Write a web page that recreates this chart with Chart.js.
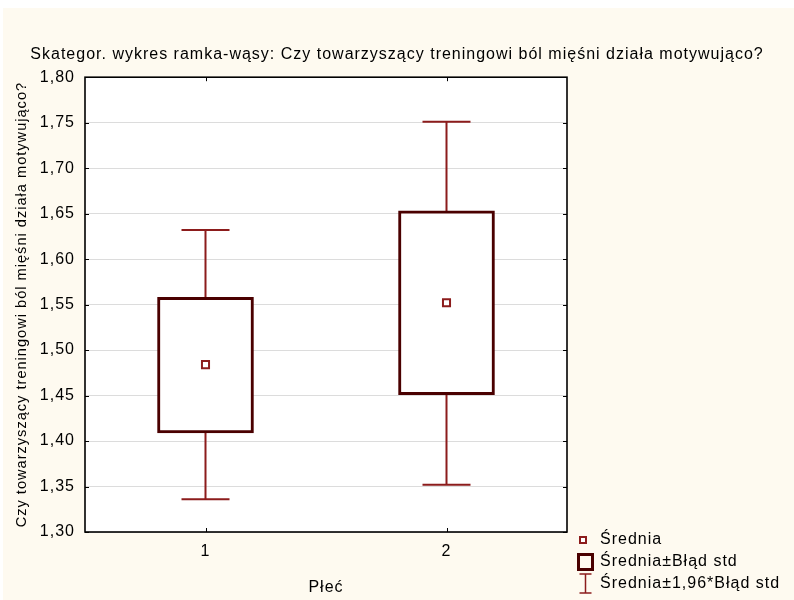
<!DOCTYPE html>
<html>
<head>
<meta charset="utf-8">
<script src="https://cdn.jsdelivr.net/npm/chart.js@4.4.1/dist/chart.umd.min.js"></script>
<style>
  html, body { margin: 0; padding: 0; background: #ffffff; }
  #wrap { width: 794px; height: 600px; position: relative; }
</style>
</head>
<body>
<div id="wrap"><canvas id="c" width="794" height="600"></canvas></div>
<script>
// ---- data ----
const categories = ['1', '2'];
const means      = [1.484, 1.552];
const seLow      = [1.409, 1.451];
const seHigh     = [1.558, 1.653];
const ciLow      = [1.336, 1.352];
const ciHigh     = [1.632, 1.751];
const yTickValues = [1.30, 1.35, 1.40, 1.45, 1.50, 1.55, 1.60, 1.65, 1.70, 1.75, 1.80];
const legendLabels = ['Średnia', 'Średnia±Błąd std', 'Średnia±1,96*Błąd std'];
const chartTitle = 'Skategor. wykres ramka-wąsy: Czy towarzyszący treningowi ból mięśni działa motywująco?';
const yTitle = 'Czy towarzyszący treningowi ból mięśni działa motywująco?';
const xTitle = 'Płeć';

const FONT = "'Liberation Sans', Arial, sans-serif";
const BOX_COLOR = '#4a0000';
const WHISKER_COLOR = '#8c1c1c';
const BG = '#fefaf0';

const spacingPlugin = {
  id: 'spacing',
  beforeUpdate(chart) { chart.ctx.letterSpacing = '1px'; },
  beforeLayout(chart) { chart.ctx.letterSpacing = '1px'; },
  beforeDraw(chart) {
    const ctx = chart.ctx;
    const a = chart.chartArea;
    ctx.save();
    ctx.fillStyle = '#ffffff';
    ctx.fillRect(0, 0, chart.width, chart.height);
    ctx.fillStyle = BG;
    ctx.fillRect(3, 8, chart.width - 3, chart.height - 8);
    ctx.fillStyle = '#ffffff';
    ctx.fillRect(a.left, a.top, a.right - a.left, a.bottom - a.top);
    ctx.restore();
    ctx.letterSpacing = '1px';
  }
};

const whiskerPlugin = {
  id: 'whiskers',
  beforeDatasetsDraw(chart) {
    const ctx = chart.ctx;
    const xs = chart.scales.x, ys = chart.scales.y;
    ctx.save();
    ctx.strokeStyle = WHISKER_COLOR;
    ctx.lineWidth = 2;
    categories.forEach((c, i) => {
      const x = xs.getPixelForValue(i);
      const yTop = ys.getPixelForValue(ciHigh[i]);
      const yBot = ys.getPixelForValue(ciLow[i]);
      const yBoxT = ys.getPixelForValue(seHigh[i]);
      const yBoxB = ys.getPixelForValue(seLow[i]);
      ctx.beginPath();
      ctx.moveTo(x, yBoxT); ctx.lineTo(x, yTop);
      ctx.moveTo(x, yBoxB); ctx.lineTo(x, yBot);
      ctx.moveTo(x - 24, yTop); ctx.lineTo(x + 24, yTop);
      ctx.moveTo(x - 24, yBot); ctx.lineTo(x + 24, yBot);
      ctx.stroke();
    });
    ctx.restore();
  },
  afterDraw(chart) {
    const ctx = chart.ctx;
    const a = chart.chartArea;
    const xs = chart.scales.x, ys = chart.scales.y;
    ctx.save();
    // frame
    ctx.strokeStyle = '#000000';
    ctx.lineWidth = 1.6;
    ctx.strokeRect(a.left, a.top, a.right - a.left, a.bottom - a.top);
    // inside ticks
    ctx.lineWidth = 1;
    ctx.beginPath();
    yTickValues.forEach(v => {
      const y = Math.round(ys.getPixelForValue(v)) + 0.5;
      ctx.moveTo(a.left, y); ctx.lineTo(a.left + 4, y);
      ctx.moveTo(a.right, y); ctx.lineTo(a.right - 4, y);
    });
    categories.forEach((c, i) => {
      const x = Math.round(xs.getPixelForValue(i)) + 0.5;
      ctx.moveTo(x, a.top); ctx.lineTo(x, a.top + 4);
      ctx.moveTo(x, a.bottom); ctx.lineTo(x, a.bottom - 4);
    });
    ctx.stroke();

    // legend
    ctx.font = '16px ' + FONT;
    ctx.letterSpacing = '1px';
    ctx.fillStyle = '#000000';
    ctx.textBaseline = 'middle';
    ctx.textAlign = 'left';
    const lx = 600;
    const rows = [540, 562, 584];
    // mean marker
    ctx.strokeStyle = WHISKER_COLOR;
    ctx.lineWidth = 2;
    ctx.fillStyle = '#ffffff';
    ctx.fillRect(580, rows[0] - 3, 6, 6);
    ctx.strokeRect(580, rows[0] - 3, 6, 6);
    // box marker
    ctx.strokeStyle = BOX_COLOR;
    ctx.lineWidth = 3;
    ctx.strokeRect(578.5, rows[1] - 7.5, 14, 15);
    // whisker marker
    ctx.strokeStyle = WHISKER_COLOR;
    ctx.lineWidth = 1.5;
    ctx.beginPath();
    ctx.moveTo(585.5, rows[2] - 10); ctx.lineTo(585.5, rows[2] + 9);
    ctx.moveTo(579.5, rows[2] - 10); ctx.lineTo(591.5, rows[2] - 10);
    ctx.moveTo(579.5, rows[2] + 9); ctx.lineTo(591.5, rows[2] + 9);
    ctx.stroke();
    ctx.fillStyle = '#000000';
    legendLabels.forEach((t, i) => ctx.fillText(t, lx, rows[i]));
    ctx.restore();
    ctx.letterSpacing = '1px';
  }
};

new Chart(document.getElementById('c'), {
  data: {
    labels: categories,
    datasets: [
      {
        type: 'bar',
        label: legendLabels[1],
        data: categories.map((c, i) => [seLow[i], seHigh[i]]),
        backgroundColor: '#ffffff',
        borderColor: BOX_COLOR,
        borderWidth: 3,
        borderSkipped: false,
        barThickness: 96,
        order: 2
      },
      {
        type: 'line',
        label: legendLabels[0],
        data: means,
        showLine: false,
        pointStyle: 'rect',
        pointRadius: 5,
        pointBorderWidth: 2,
        pointBorderColor: WHISKER_COLOR,
        pointBackgroundColor: '#ffffff',
        order: 1
      }
    ]
  },
  options: {
    responsive: false,
    animation: false,
    events: [],
    layout: { padding: { left: 0, right: 0, top: 0, bottom: 0 } },
    plugins: {
      legend: { display: false },
      tooltip: { enabled: false },
      title: {
        display: true,
        text: chartTitle,
        color: '#000000',
        font: { family: FONT, size: 16, weight: 'normal', lineHeight: 1.2 },
        padding: { top: 45, bottom: 13 }
      }
    },
    scales: {
      x: {
        type: 'category',
        grid: { display: false, drawTicks: false },
        border: { display: false },
        ticks: { color: '#000000', font: { family: FONT, size: 16 }, padding: 10 },
        title: { display: true, text: xTitle, color: '#000000', font: { family: FONT, size: 16 }, padding: { top: 0, bottom: 3 } },
        afterFit(scale) { scale.height = 68; }
      },
      y: {
        type: 'linear',
        position: 'left',
        min: 1.30,
        max: 1.80,
        afterBuildTicks(scale) { scale.ticks = yTickValues.map(v => ({ value: v })); },
        grid: { color: '#dcdcdc', lineWidth: 1, drawTicks: false },
        border: { display: false },
        ticks: {
          color: '#000000',
          font: { family: FONT, size: 16 },
          padding: 10,
          callback: v => v.toFixed(2).replace('.', ',')
        },
        title: { display: true, text: yTitle, color: '#000000', font: { family: FONT, size: 14.6, lineHeight: 1.2 }, padding: { top: 13, bottom: 0 } },
        afterFit(scale) { scale.width = 85; }
      },
      yR: {
        type: 'linear',
        position: 'right',
        display: true,
        grid: { display: false, drawTicks: false },
        border: { display: false },
        ticks: { display: false },
        afterFit(scale) { scale.width = 227; }
      }
    }
  },
  plugins: [spacingPlugin, whiskerPlugin]
});
</script>
</body>
</html>
